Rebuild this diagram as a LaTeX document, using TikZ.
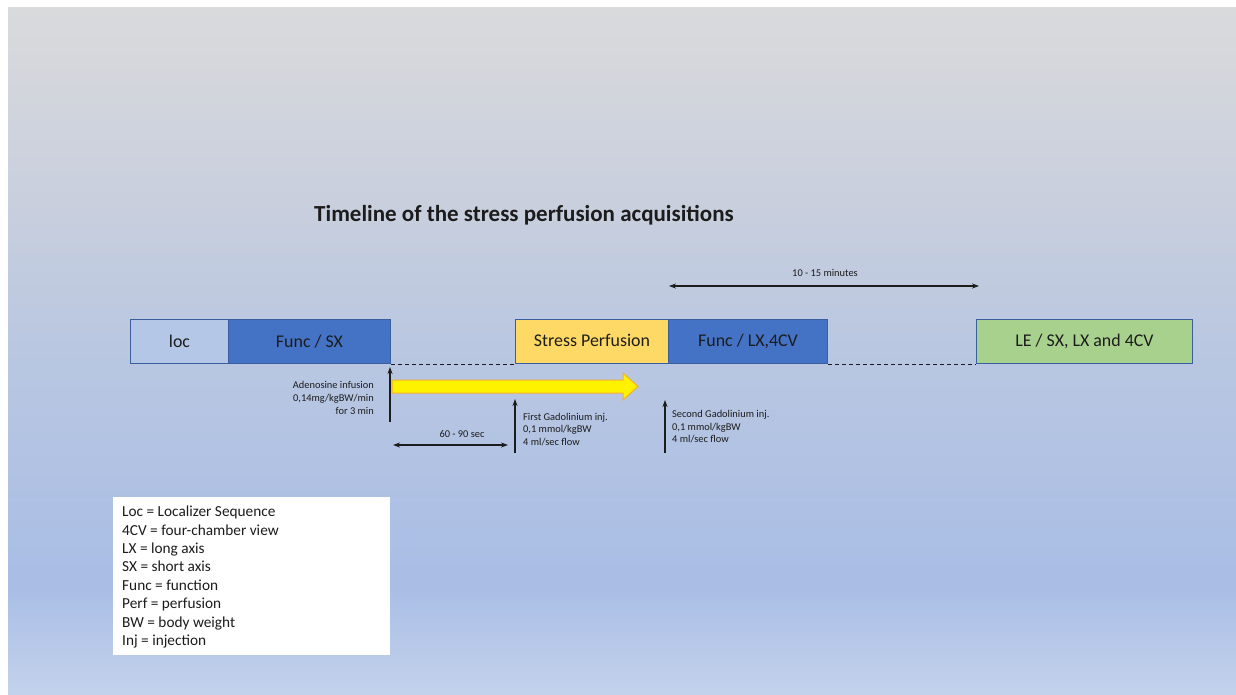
\documentclass[tikz,border=0pt]{standalone}
\usepackage{fontspec}
\setmainfont{Carlito}
\usetikzlibrary{arrows.meta}
\definecolor{bgtop}{HTML}{D9DADC}
\definecolor{bgupper}{HTML}{C9CFDD}
\definecolor{bgmid}{HTML}{B9C7E1}
\definecolor{bgdeep}{HTML}{A9BDE5}
\definecolor{bgbot}{HTML}{C3D2EC}
\definecolor{funcblue}{HTML}{4472C4}
\definecolor{locfill}{HTML}{B4C7E7}
\definecolor{stressfill}{HTML}{FFD966}
\definecolor{legreen}{HTML}{A9D18E}
\definecolor{boxline}{HTML}{3A5F9E}
\definecolor{textdark}{HTML}{1C1C1C}
\definecolor{arrowline}{HTML}{F4B030}
\pgfdeclareverticalshading{bgshade}{100bp}{color(0bp)=(bgbot); color(25bp)=(bgbot); color(33bp)=(bgdeep); color(50bp)=(bgmid); color(61bp)=(bgupper); color(75bp)=(bgtop); color(100bp)=(bgtop)}
\begin{document}
\begin{tikzpicture}[x=1pt,y=-1pt,
  box/.style={draw=boxline, line width=1pt, minimum height=44pt, inner sep=0pt, anchor=north west, text=textdark, font=\fontsize{17.9}{20}\selectfont},
  small/.style={font=\fontsize{10.4}{12.6}\selectfont, inner sep=0pt, text=textdark},
  arr/.style={line width=1.1pt, textdark, -{Stealth[length=7pt,width=5pt]}},
  darr/.style={line width=1.1pt, textdark, {Stealth[length=7pt,width=5pt]}-{Stealth[length=7pt,width=5pt]}},
  dashline/.style={line width=1pt, textdark, dash pattern=on 4pt off 3pt}
]
\useasboundingbox (0,0) rectangle (1236,694);
\fill[white] (0,0) rectangle (1236,694);
\shade[shading=bgshade] (8,7) rectangle (1236,694);

% title
\node[font=\bfseries\fontsize{23}{26}\selectfont, text=textdark, inner sep=0pt] (title) at (524,215) {Timeline of the stress perfusion acquisitions};

% boxes
\node[box, fill=locfill, minimum width=98pt] (loc) at (130,319) {loc};
\node[box, fill=funcblue, minimum width=162pt] (funcsx) at (228,319) {Func / SX};
\node[box, fill=stressfill, minimum width=153pt] (stress) at (515,319) {\raisebox{2pt}{Stress Perfusion}};
\node[box, fill=funcblue, minimum width=159pt] (funclx) at (668,319) {\raisebox{1pt}{Func / LX,4CV}};
\node[box, fill=legreen, minimum width=216pt] (le) at (976,319) {\raisebox{2pt}{LE / SX, LX and 4CV}};

% dashed links
\draw[dashline] (funcsx.south east) -- (stress.south west);
\draw[dashline] (funclx.south east) -- (le.south west);

% yellow arrow
\filldraw[fill=yellow, draw=arrowline, line width=1pt] (392,380) -- (623,380) -- (623,373) -- (638,386.5) -- (623,400) -- (623,393) -- (392,393) -- cycle;

% vertical arrows
\coordinate (adb) at (390,422);
\coordinate (adt) at (390,367);
\draw[arr] (adb) -- (adt);
\coordinate (g1b) at (515,453);
\coordinate (g1t) at (515,399);
\draw[arr] (g1b) -- (g1t);
\coordinate (g2b) at (665,453);
\coordinate (g2t) at (665,400);
\draw[arr] (g2b) -- (g2t);

% labels
\node[small, align=right, anchor=east] (adlab) at (374,398) {Adenosine infusion\\0,14mg/kgBW/min\\for 3 min};
\node[small, align=left, anchor=west] (g1lab) at (523,429.5) {First Gadolinium inj.\\0,1 mmol/kgBW\\4 ml/sec flow};
\node[small, align=left, anchor=west] (g2lab) at (672,427) {Second Gadolinium inj.\\0,1 mmol/kgBW\\4 ml/sec flow};

% duration arrows
\coordinate (s1) at (393,445);
\coordinate (s2) at (508,445);
\draw[darr] (s1) -- (s2);
\node[small] (slab) at (462,434) {60 - 90 sec};
\coordinate (m1) at (669,286);
\coordinate (m2) at (979,286);
\draw[darr] (m1) -- (m2);
\node[small] (mlab) at (825,273) {10 - 15 minutes};

% legend
\node[fill=white, anchor=north west, minimum width=277pt, minimum height=158pt, inner sep=0pt] (legend) at (113,497) {};
\node[anchor=west, align=left, inner sep=0pt, text=textdark, font=\fontsize{15.3}{18.4}\selectfont] (legtext) at (122,577) {Loc = Localizer Sequence\\4CV = four-chamber view\\LX = long axis\\SX = short axis\\Func = function\\Perf = perfusion\\BW = body weight\\Inj = injection};
\end{tikzpicture}
\end{document}
